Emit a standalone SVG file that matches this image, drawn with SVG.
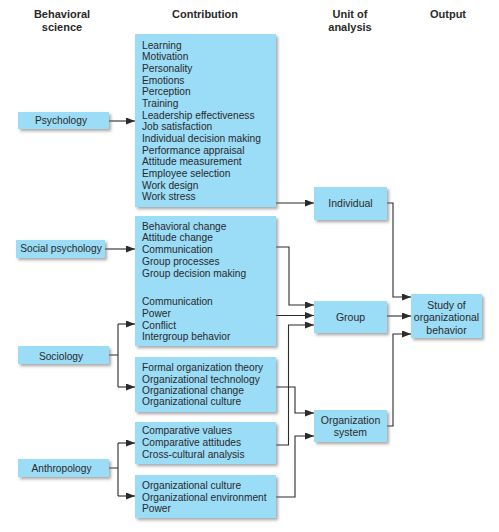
<svg xmlns="http://www.w3.org/2000/svg" width="499" height="532" viewBox="0 0 499 532">
  <defs>
    <filter id="shadow" x="-10%" y="-10%" width="130%" height="140%">
      <feDropShadow dx="2" dy="2.2" stdDeviation="1.5" flood-color="#6f6f6f" flood-opacity="0.6"/>
    </filter>
    <marker id="arrow" markerUnits="userSpaceOnUse" markerWidth="9" markerHeight="7" refX="9" refY="3.5" orient="auto">
      <path d="M0,0 L9,3.5 L0,7 z" fill="#2b2b2b"/>
    </marker>
    <style>
      .box { fill: #9bdcf6; filter: url(#shadow); }
      .hdr { font-family: "Liberation Sans", Arial, sans-serif; font-size: 11px; font-weight: bold; fill: #2a2a2a; text-anchor: middle; }
      .t { font-family: "Liberation Sans", Arial, sans-serif; font-size: 10.2px; fill: #2a2a2a; }
      .c { text-anchor: middle; }
      .u { font-size: 10.5px; }
      .wire { fill: none; stroke: #2b2b2b; stroke-width: 1.1; }
      .arr { marker-end: url(#arrow); }
    </style>
  </defs>
  <rect width="499" height="532" fill="#ffffff"/>

  <!-- column headings -->
  <g id="headings">
    <text class="hdr" x="62" y="18">Behavioral</text>
    <text class="hdr" x="62" y="30.5">science</text>
    <text class="hdr" x="205" y="18">Contribution</text>
    <text class="hdr" x="350" y="18">Unit of</text>
    <text class="hdr" x="350" y="30.5">analysis</text>
    <text class="hdr" x="448" y="18">Output</text>
  </g>

  <!-- connectors -->
  <g id="connectors">
    <path class="wire arr" d="M109,121 H135"/>
    <path class="wire arr" d="M105,249 H135"/>
    <path class="wire" d="M109,355 H118 M118,324 V387"/>
    <path class="wire arr" d="M118,324 H135"/>
    <path class="wire arr" d="M118,387 H135"/>
    <path class="wire" d="M109,468 H118 M118,443 V496"/>
    <path class="wire arr" d="M118,443 H135"/>
    <path class="wire arr" d="M118,496 H135"/>
    <path class="wire arr" d="M276,203 H314"/>
    <path class="wire arr" d="M276,247 H289 V305 H314"/>
    <path class="wire arr" d="M276,315.5 H314"/>
    <path class="wire arr" d="M276,445 H288.5 V325 H314"/>
    <path class="wire arr" d="M276,387 H295 V413 H314"/>
    <path class="wire arr" d="M276,497 H295 V436 H314"/>
    <path class="wire arr" d="M387,203 H393 V297 H411"/>
    <path class="wire arr" d="M387,316 H411"/>
    <path class="wire arr" d="M387,426 H393 V334 H411"/>
  </g>

  <!-- behavioral sciences -->
  <g id="psychology">
    <rect class="box" x="18" y="112" width="91" height="17"/>
    <text class="t c" x="61" y="124.3">Psychology</text>
  </g>
  <g id="social-psychology">
    <rect class="box" x="16" y="240" width="89" height="18"/>
    <text class="t c" x="61" y="252">Social psychology</text>
  </g>
  <g id="sociology">
    <rect class="box" x="18" y="346" width="91" height="18"/>
    <text class="t c" x="61" y="359.6">Sociology</text>
  </g>
  <g id="anthropology">
    <rect class="box" x="18" y="459" width="91" height="18"/>
    <text class="t c" x="61.5" y="472">Anthropology</text>
  </g>

  <!-- contributions -->
  <g id="contrib-psychology">
    <rect class="box" x="135" y="34" width="141" height="173"/>
    <text class="t" x="142" y="48.5">Learning</text>
    <text class="t" x="142" y="60.2">Motivation</text>
    <text class="t" x="142" y="71.8">Personality</text>
    <text class="t" x="142" y="83.5">Emotions</text>
    <text class="t" x="142" y="95.2">Perception</text>
    <text class="t" x="142" y="106.8">Training</text>
    <text class="t" x="142" y="118.5">Leadership effectiveness</text>
    <text class="t" x="142" y="130.2">Job satisfaction</text>
    <text class="t" x="142" y="141.9">Individual decision making</text>
    <text class="t" x="142" y="153.5">Performance appraisal</text>
    <text class="t" x="142" y="165.2">Attitude measurement</text>
    <text class="t" x="142" y="176.9">Employee selection</text>
    <text class="t" x="142" y="188.5">Work design</text>
    <text class="t" x="142" y="200.2">Work stress</text>
  </g>
  <g id="contrib-social">
    <rect class="box" x="135" y="216" width="141" height="130"/>
    <text class="t" x="142" y="229.6">Behavioral change</text>
    <text class="t" x="142" y="241.4">Attitude change</text>
    <text class="t" x="142" y="253.2">Communication</text>
    <text class="t" x="142" y="265">Group processes</text>
    <text class="t" x="142" y="276.8">Group decision making</text>
    <text class="t" x="142" y="305.3">Communication</text>
    <text class="t" x="142" y="317">Power</text>
    <text class="t" x="142" y="328.6">Conflict</text>
    <text class="t" x="142" y="340.3">Intergroup behavior</text>
  </g>
  <g id="contrib-organization">
    <rect class="box" x="135" y="357" width="141" height="55"/>
    <text class="t" x="142" y="371">Formal organization theory</text>
    <text class="t" x="142" y="382.5">Organizational technology</text>
    <text class="t" x="142" y="394">Organizational change</text>
    <text class="t" x="142" y="405.4">Organizational culture</text>
  </g>
  <g id="contrib-comparative">
    <rect class="box" x="135" y="422" width="141" height="42"/>
    <text class="t" x="142" y="434.3">Comparative values</text>
    <text class="t" x="142" y="446.1">Comparative attitudes</text>
    <text class="t" x="142" y="457.9">Cross-cultural analysis</text>
  </g>
  <g id="contrib-environment">
    <rect class="box" x="135" y="475" width="141" height="43"/>
    <text class="t" x="142" y="489">Organizational culture</text>
    <text class="t" x="142" y="500.5">Organizational environment</text>
    <text class="t" x="142" y="512">Power</text>
  </g>

  <!-- units of analysis -->
  <g id="individual">
    <rect class="box" x="314" y="187" width="73" height="33"/>
    <text class="t u c" x="350.5" y="206.7">Individual</text>
  </g>
  <g id="group">
    <rect class="box" x="314" y="301" width="73" height="32"/>
    <text class="t u c" x="350.5" y="320.7">Group</text>
  </g>
  <g id="organization-system">
    <rect class="box" x="314" y="410" width="73" height="32"/>
    <text class="t u c" x="350.5" y="423.7">Organization</text>
    <text class="t u c" x="350.5" y="436">system</text>
  </g>

  <!-- output -->
  <g id="study">
    <rect class="box" x="411" y="294" width="71" height="44"/>
    <text class="t u c" x="446.5" y="308.7">Study of</text>
    <text class="t u c" x="446.5" y="320.5">organizational</text>
    <text class="t u c" x="446.5" y="334.3">behavior</text>
  </g>
</svg>
